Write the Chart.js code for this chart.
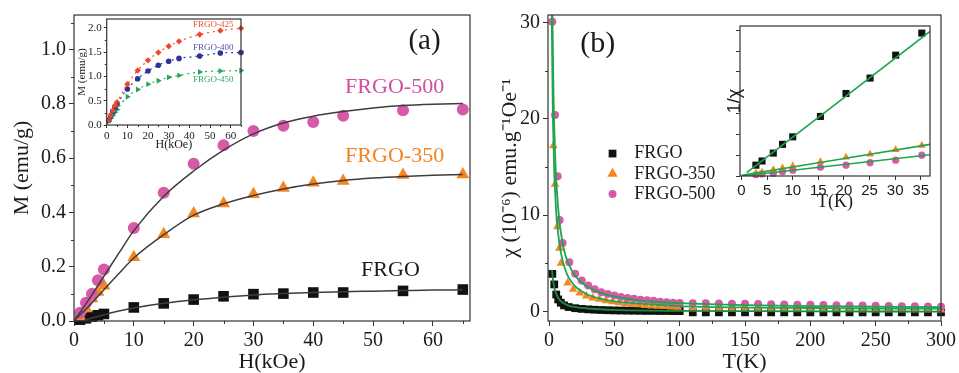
<!DOCTYPE html>
<html>
<head>
<meta charset="utf-8">
<script src="https://cdn.jsdelivr.net/npm/chart.js@4.4.0/dist/chart.umd.min.js"></script>
<style>
  body { margin: 0; background: #fff; width: 959px; height: 373px; position: relative; overflow: hidden; }
  canvas { position: absolute; }
</style>
</head>
<body>
<canvas id="mainA" width="480" height="373" style="left:0;top:0"></canvas>
<canvas id="insetA" width="190" height="160" style="left:60px;top:0"></canvas>
<canvas id="mainB" width="479" height="373" style="left:480px;top:0"></canvas>
<canvas id="insetB" width="250" height="200" style="left:700px;top:15px"></canvas>
<script>
// ---- panel (a): M vs H ----
const H_PTS = [1, 2, 3, 4, 5, 10, 15, 20, 25, 30, 35, 40, 45, 55, 65];
const M_500 = [0.03, 0.067, 0.10, 0.15, 0.19, 0.343, 0.473, 0.58, 0.648, 0.70, 0.72, 0.734, 0.757, 0.777, 0.78];
const M_350 = [0.016, 0.046, 0.083, 0.107, 0.13, 0.235, 0.32, 0.396, 0.433, 0.467, 0.49, 0.51, 0.516, 0.538, 0.54];
const M_FRGO = [0.005, 0.01, 0.016, 0.021, 0.026, 0.05, 0.065, 0.079, 0.091, 0.099, 0.101, 0.105, 0.105, 0.111, 0.116];

const H_FIT = [0, 2.5, 5, 7.5, 10, 15, 20, 25, 30, 35, 40, 45, 50, 55, 60, 65];
const FIT_500 = [0, 0.08, 0.165, 0.25, 0.333, 0.46, 0.553, 0.63, 0.69, 0.73, 0.755, 0.772, 0.785, 0.794, 0.799, 0.802];
const FIT_350 = [0, 0.055, 0.115, 0.175, 0.232, 0.318, 0.39, 0.432, 0.463, 0.487, 0.505, 0.518, 0.527, 0.533, 0.537, 0.54];
const H_FIT_FRGO = [1.5, 2.5, 5, 7.5, 10, 15, 20, 25, 30, 35, 40, 45, 50, 55, 60, 65];
const FIT_FRGO = [0, 0.008, 0.023, 0.037, 0.048, 0.065, 0.078, 0.088, 0.096, 0.101, 0.105, 0.108, 0.110, 0.112, 0.114, 0.115];

// inset of (a)
const H_IN = [1, 2, 3, 4, 5, 10, 15, 20, 25, 30, 35, 45, 55, 65];
const M_425 = [0.1, 0.2, 0.3, 0.4, 0.47, 0.84, 1.12, 1.33, 1.49, 1.62, 1.72, 1.86, 1.94, 1.99];
const M_400 = [0.1, 0.19, 0.28, 0.36, 0.43, 0.74, 0.95, 1.11, 1.23, 1.31, 1.37, 1.42, 1.48, 1.49];
const M_450 = [0.07, 0.14, 0.2, 0.26, 0.32, 0.58, 0.73, 0.84, 0.91, 0.98, 1.02, 1.09, 1.11, 1.12];

// ---- panel (b): chi vs T ----
const T_FRGO = [2.5, 4, 5.5, 7, 9, 11.5, 15, 20, 25, 30, 35, 40, 45, 50, 55, 60, 65, 70, 75, 80, 85, 90, 95, 100,
  110, 120, 130, 140, 150, 160, 170, 180, 190, 200, 210, 220, 230, 240, 250, 260, 270, 280, 290, 300];
const CHI_FRGO = [3.9, 2.8, 1.75, 1.24, 0.9, 0.62, 0.45, 0.33, 0.26, 0.21, 0.17, 0.14, 0.12, 0.1, 0.09, 0.08, 0.07, 0.06, 0.05, 0.05, 0.04, 0.04, 0.03, 0.03,
  -0.1, -0.1, -0.1, -0.1, -0.1, -0.1, -0.1, -0.1, -0.1, -0.1, -0.1, -0.1, -0.1, -0.1, -0.1, -0.1, -0.1, -0.1, -0.1, -0.1];
const T_350 = [3.3, 4.6, 6.3, 7.9, 9.1, 14.2, 18.5, 23.5, 28.5, 33.5, 38.5, 43.5, 48.5, 53.5, 58.5, 63.5, 68.5, 73.5, 78.5, 83.5, 88.5, 93.5, 98.5,
  110, 120, 130, 140, 150, 160, 170, 180, 190, 200, 210, 220, 230, 240, 250, 260, 270, 280, 290, 300];
const CHI_350 = [17.2, 13.2, 8.8, 6.56, 5.0, 2.95, 2.3, 1.9, 1.6, 1.4, 1.25, 1.1, 1.0, 0.9, 0.82, 0.75, 0.68, 0.62, 0.57, 0.53, 0.5, 0.46, 0.43,
  0.3, 0.28, 0.27, 0.26, 0.25, 0.24, 0.23, 0.22, 0.22, 0.21, 0.2, 0.2, 0.19, 0.18, 0.18, 0.17, 0.17, 0.16, 0.16, 0.15];
const T_500 = [2.5, 4.6, 6.6, 8.1, 10.4, 15.5, 20, 25, 30, 35, 40, 45, 50, 55, 60, 65, 70, 75, 80, 85, 90, 95, 100,
  110, 120, 130, 140, 150, 160, 170, 180, 190, 200, 210, 220, 230, 240, 250, 260, 270, 280, 290, 300];
const CHI_500 = [30.1, 20.4, 14.05, 9.5, 7.1, 5.1, 3.9, 3.2, 2.7, 2.3, 2.0, 1.8, 1.65, 1.5, 1.4, 1.3, 1.2, 1.15, 1.1, 1.0, 0.95, 0.9, 0.88,
  0.85, 0.84, 0.82, 0.8, 0.78, 0.76, 0.74, 0.72, 0.7, 0.68, 0.66, 0.64, 0.62, 0.6, 0.58, 0.56, 0.54, 0.52, 0.5, 0.48];

const T_FIT_500 = [2.6, 3, 3.5, 4, 5, 6, 8, 10, 12, 15, 20, 25, 30, 40, 50, 60, 80, 100, 150, 200, 250, 300];
const FIT_CHI_500 = [31, 26.5, 22, 19, 15, 12.5, 9.3, 7.4, 6.1, 4.9, 3.7, 3.0, 2.5, 1.9, 1.55, 1.3, 1.0, 0.85, 0.65, 0.55, 0.5, 0.45];
const T_FIT_350 = [2.1, 2.5, 3, 3.5, 4, 5, 6, 8, 10, 12, 15, 20, 25, 30, 40, 50, 60, 80, 100, 150, 200, 250, 300];
const FIT_CHI_350 = [31, 25, 20, 17, 14.5, 11.5, 9.4, 7, 5.5, 4.5, 3.5, 2.6, 2.1, 1.7, 1.3, 1.05, 0.9, 0.7, 0.55, 0.4, 0.35, 0.3, 0.3];
const T_FIT_FRGO = [2.2, 3, 4, 5, 6, 8, 10, 15, 20, 30, 50, 100, 150, 200, 300];
const FIT_CHI_FRGO = [4.3, 3.3, 2.5, 2.0, 1.65, 1.2, 0.95, 0.6, 0.45, 0.3, 0.15, 0.05, 0.02, 0.0, -0.02];

// inset of (b): 1/chi vs T
const T_IN = [2.8, 4.0, 6.2, 8.0, 10.0, 15.4, 20.4, 25.1, 30.1, 35.2];
const INV_FRGO = [0.26, 0.36, 0.55, 0.76, 0.94, 1.43, 1.98, 2.35, 2.9, 3.43];
const INV_350 = [0.064, 0.09, 0.15, 0.19, 0.24, 0.34, 0.45, 0.52, 0.63, 0.73];
const INV_500 = [0.03, 0.05, 0.06, 0.1, 0.14, 0.21, 0.26, 0.32, 0.38, 0.5];
const T_LINE_FRGO = [1, 36.8];
const LINE_INV_FRGO = [0.08, 3.47];
const T_LINE = [0, 36.8];
const LINE_INV_350 = [0.016, 0.76];
const LINE_INV_500 = [0, 0.51];

const INK = '#1a1a1a';
const PINK = '#d65aa8';
const ORANGE = '#f7861f';
const GREEN = '#1fa54d';
const SERIF = "'Liberation Serif', 'Times New Roman', serif";
const SANS = "'Liberation Sans', Arial, sans-serif";

const xy = (xs, ys) => xs.map((x, i) => ({ x, y: ys[i] }));

function drawMarker(ctx, style, x, y, r, color) {
  ctx.save();
  ctx.fillStyle = color;
  ctx.beginPath();
  if (style === 'rect') {
    const s = r * Math.SQRT1_2;
    ctx.rect(x - s, y - s, 2 * s, 2 * s);
  } else if (style === 'triangle') {
    for (let k = 0; k < 3; k++) {
      const a = k * 2 * Math.PI / 3;
      ctx.lineTo(x + Math.sin(a) * r, y - Math.cos(a) * r);
    }
    ctx.closePath();
  } else {
    ctx.arc(x, y, r, 0, Math.PI * 2);
  }
  ctx.fill();
  ctx.restore();
}

// box around chart area
const frame = {
  id: 'frame',
  afterDraw(chart) {
    const { ctx, chartArea: a } = chart;
    ctx.save();
    ctx.strokeStyle = '#333';
    ctx.lineWidth = 1.2;
    ctx.strokeRect(a.left, a.top, a.right - a.left, a.bottom - a.top);
    ctx.restore();
  }
};

// short unlabelled ticks between the labelled ones
const minorTicks = {
  id: 'minorTicks',
  afterDraw(chart, args, opts) {
    const { ctx } = chart;
    ctx.save();
    ctx.strokeStyle = '#333';
    ctx.lineWidth = 1;
    for (const id of ['x', 'y']) {
      const step = opts[id];
      if (!step) continue;
      const s = chart.scales[id];
      const major = s.options.ticks.stepSize;
      for (let v = Math.ceil(s.min / step) * step; v <= s.max + 1e-9; v += step) {
        const q = v / major;
        if (Math.abs(q - Math.round(q)) < 1e-6) continue;
        const p = Math.round(s.getPixelForValue(v)) + 0.5;
        ctx.beginPath();
        if (id === 'x') { ctx.moveTo(p, s.top); ctx.lineTo(p, s.top + opts.len); }
        else { ctx.moveTo(s.right, p); ctx.lineTo(s.right - opts.len, p); }
        ctx.stroke();
      }
    }
    ctx.restore();
  }
};

// text and legend markers placed in data coordinates
const notes = {
  id: 'notes',
  afterDraw(chart, args, opts) {
    const { ctx } = chart;
    const sx = chart.scales.x, sy = chart.scales.y;
    for (const n of opts.items || []) {
      const px = sx.getPixelForValue(n.x), py = sy.getPixelForValue(n.y);
      if (n.marker) { drawMarker(ctx, n.marker, px, py, n.r, n.color); continue; }
      ctx.save();
      ctx.font = `${n.size}px ${n.family || SERIF}`;
      ctx.fillStyle = n.color || INK;
      ctx.textAlign = n.align || 'center';
      ctx.textBaseline = 'middle';
      ctx.fillText(n.text, px, py);
      ctx.restore();
    }
  }
};

function scatterSet(xs, ys, color, style, r, extra) {
  return Object.assign({
    data: xy(xs, ys), showLine: false, pointStyle: style, pointRadius: r,
    backgroundColor: color, borderColor: color, borderWidth: 0, clip: false
  }, extra || {});
}
function fitSet(xs, ys, color, width, extra) {
  return Object.assign({
    data: xy(xs, ys), showLine: true, pointRadius: 0, borderColor: color,
    borderWidth: width, cubicInterpolationMode: 'monotone', fill: false
  }, extra || {});
}

function axis(o) {
  return {
    type: 'linear', min: o.min, max: o.max,
    afterFit: o.fit,
    // ticks at whole multiples of the step, whatever the range ends are
    afterBuildTicks: s => {
      const t = [];
      for (let k = Math.ceil(s.min / o.step - 1e-9); k * o.step <= s.max + 1e-9; k++) {
        t.push({ value: +(k * o.step).toFixed(6) });
      }
      s.ticks = t;
    },
    grid: { drawOnChartArea: false, drawTicks: true, tickLength: o.tick || 5, color: '#333' },
    border: { display: false },
    ticks: {
      stepSize: o.step, includeBounds: false, padding: o.pad == null ? 3 : o.pad,
      color: INK, font: { size: o.size, family: o.family || SERIF },
      maxRotation: 0, autoSkip: false,
      callback: o.fmt || (v => v)
    },
    title: o.title ? {
      display: true, text: o.title, color: INK,
      font: { size: o.tsize, family: o.tfamily || SERIF, lineHeight: 1 },
      padding: o.tpad
    } : { display: false }
  };
}

function base(w, h, area, scales, extraPlugins) {
  return {
    responsive: false, animation: false, devicePixelRatio: 1,
    events: [],
    layout: { autoPadding: false, padding: { left: 0, top: area.top, right: w - area.right, bottom: 0 } },
    scales,
    plugins: Object.assign({ legend: { display: false }, tooltip: { enabled: false } }, extraPlugins)
  };
}

// ---------- (a) main ----------
{
  const W = 480, H = 373, A = { left: 74, top: 13, right: 470, bottom: 321 };
  new Chart(document.getElementById('mainA'), {
    type: 'scatter',
    data: {
      datasets: [
        fitSet(H_FIT, FIT_500, '#3d3d3d', 1.5),
        fitSet(H_FIT, FIT_350, '#3d3d3d', 1.5),
        fitSet(H_FIT_FRGO, FIT_FRGO, '#3d3d3d', 1.5),
        scatterSet(H_PTS, M_500, PINK, 'circle', 6),
        scatterSet(H_PTS, M_350, ORANGE, 'triangle', 7.5),
        scatterSet(H_PTS, M_FRGO, '#111', 'rect', 7.5)
      ]
    },
    options: base(W, H, A, {
      x: axis({ min: 0, max: 66.2, step: 10, size: 20, fit: s => { s.height = H - A.bottom; },
        title: 'H(kOe)', tsize: 22, tpad: { top: 0, bottom: 0 } }),
      y: axis({ min: 0, max: 1.128, step: 0.2, size: 20, fmt: v => v.toFixed(1), fit: s => { s.width = A.left; },
        title: 'M (emu/g)', tsize: 22, tpad: { top: 11, bottom: 0 } })
    }, {
      minorTicks: { x: 5, y: 0.1, len: 3 },
      notes: { items: [
        { text: 'FRGO-500', x: 53.6, y: 0.863, size: 22, color: '#d24ea0' },
        { text: 'FRGO-350', x: 53.6, y: 0.607, size: 22, color: '#f5821f' },
        { text: 'FRGO', x: 52.9, y: 0.187, size: 22, color: INK },
        { text: '(a)', x: 58.6, y: 1.03, size: 29, color: INK }
      ] }
    }),
    plugins: [frame, minorTicks, notes]
  });
}

// ---------- (a) inset ----------
{
  const W = 190, H = 160, A = { left: 46.7, top: 19, right: 181, bottom: 125 };
  new Chart(document.getElementById('insetA'), {
    type: 'scatter',
    data: {
      datasets: [
        fitSet(H_IN, M_425, '#f0482a', 1.2, { borderDash: [2, 4], cubicInterpolationMode: 'default', tension: 0.4 }),
        fitSet(H_IN, M_400, '#2f3597', 1.2, { borderDash: [2, 4], cubicInterpolationMode: 'default', tension: 0.4 }),
        fitSet(H_IN, M_450, '#22a756', 1.2, { borderDash: [2, 4], cubicInterpolationMode: 'default', tension: 0.4 }),
        scatterSet(H_IN, M_425, '#f0482a', 'rectRot', 3.2),
        scatterSet(H_IN, M_400, '#2f3597', 'circle', 2.8),
        scatterSet(H_IN, M_450, '#22a756', 'triangle', 3.4, { rotation: 90 })
      ]
    },
    options: base(W, H, A, {
      x: axis({ min: 0, max: 65, step: 10, size: 11, tick: 3, pad: 2, fit: s => { s.height = H - A.bottom; },
        title: 'H(kOe)', tsize: 12, tpad: { top: 0, bottom: 9 } }),
      y: axis({ min: 0, max: 2.18, step: 0.5, size: 11, tick: 3, pad: 2, fmt: v => v.toFixed(1), fit: s => { s.width = A.left; },
        title: 'M (emu/g)', tsize: 11, tpad: { top: 17, bottom: 0 } })
    }, {
      minorTicks: { x: 5, y: 0.25, len: 2 },
      notes: { items: [
        { text: 'FRGO-425', x: 41.8, y: 2.06, size: 9, color: '#f0532f', align: 'left' },
        { text: 'FRGO-400', x: 41.8, y: 1.6, size: 9, color: '#5555aa', align: 'left' },
        { text: 'FRGO-450', x: 41.8, y: 0.925, size: 9, color: '#2eae62', align: 'left' }
      ] }
    }),
    plugins: [frame, minorTicks, notes]
  });
}

// ---------- (b) main ----------
{
  const W = 479, H = 373, A = { left: 68, top: 13, right: 463, bottom: 321 };
  new Chart(document.getElementById('mainB'), {
    type: 'scatter',
    data: {
      datasets: [
        fitSet(T_FIT_500, FIT_CHI_500, GREEN, 1.8),
        fitSet(T_FIT_350, FIT_CHI_350, GREEN, 1.8),
        fitSet(T_FIT_FRGO, FIT_CHI_FRGO, '#1b8a40', 1.8),
        scatterSet(T_500, CHI_500, PINK, 'circle', 4),
        scatterSet(T_350, CHI_350, ORANGE, 'triangle', 5),
        scatterSet(T_FRGO, CHI_FRGO, '#111', 'rect', 5.5)
      ]
    },
    options: base(W, H, A, {
      x: axis({ min: -0.8, max: 300, step: 50, size: 20, fit: s => { s.height = H - A.bottom; },
        title: 'T(K)', tsize: 22, tpad: { top: 0, bottom: 0 } }),
      y: axis({ min: -1, max: 30.8, step: 10, size: 20, fit: s => { s.width = A.left; },
        title: 'χ (10⁻⁶) emu.g⁻¹Oe⁻¹', tsize: 22, tpad: { top: 19, bottom: 0 } })
    }, {
      minorTicks: { x: 25, y: 5, len: 3 },
      notes: { items: [
        { text: '(b)', x: 37.3, y: 27.75, size: 30, color: INK },
        { marker: 'rect', x: 48.6, y: 16.4, r: 5.5, color: '#111' },
        { marker: 'triangle', x: 48.6, y: 14.3, r: 6, color: ORANGE },
        { marker: 'circle', x: 48.6, y: 12.2, r: 4, color: PINK },
        { text: 'FRGO', x: 65.3, y: 16.4, size: 18, align: 'left' },
        { text: 'FRGO-350', x: 65.3, y: 14.3, size: 18, align: 'left' },
        { text: 'FRGO-500', x: 65.3, y: 12.2, size: 18, align: 'left' }
      ] }
    }),
    plugins: [frame, minorTicks, notes]
  });
}

// ---------- (b) inset ----------
{
  const W = 250, H = 200, A = { left: 40, top: 11, right: 230, bottom: 161 };
  new Chart(document.getElementById('insetB'), {
    type: 'scatter',
    data: {
      datasets: [
        fitSet(T_LINE_FRGO, LINE_INV_FRGO, GREEN, 1.6),
        fitSet(T_LINE, LINE_INV_350, GREEN, 1.6),
        fitSet(T_LINE, LINE_INV_500, GREEN, 1.6),
        scatterSet(T_IN, INV_FRGO, '#111', 'rect', 5),
        scatterSet(T_IN, INV_350, ORANGE, 'triangle', 4.5),
        scatterSet(T_IN, INV_500, PINK, 'circle', 3.6)
      ]
    },
    options: base(W, H, A, {
      x: axis({ min: -0.3, max: 36.8, step: 5, size: 15, family: SANS, tick: 4, pad: 2, fit: s => { s.height = H - A.bottom; },
        title: 'T(K)', tsize: 18, tpad: { top: 0, bottom: 4 } }),
      y: axis({ min: 0, max: 3.6, step: 0.5, size: 10, tick: 4, fmt: () => '', fit: s => { s.width = A.left; },
        title: '1/χ', tsize: 18, tfamily: SANS, tpad: { top: 26, bottom: 0 } })
    }, {}),
    plugins: [frame]
  });
}
</script>
</body>
</html>
